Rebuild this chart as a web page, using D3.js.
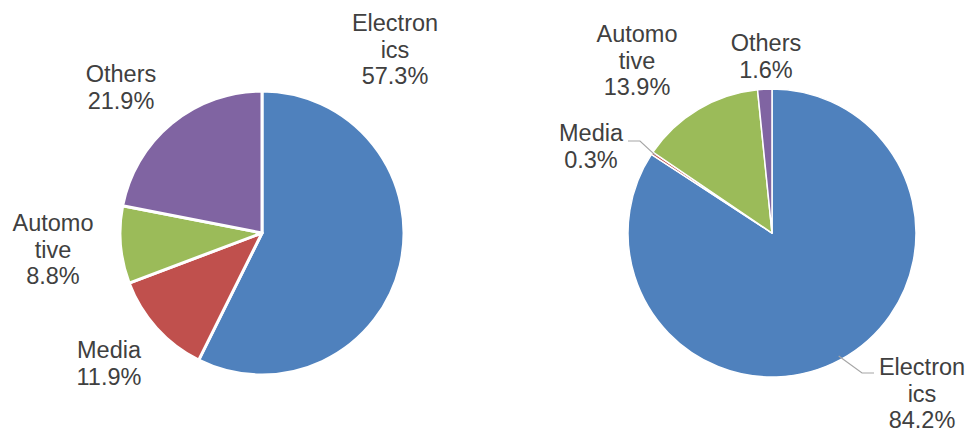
<!DOCTYPE html>
<html>
<head>
<meta charset="utf-8">
<script src="https://cdn.jsdelivr.net/npm/d3@7"></script>
<style>
  body { margin: 0; background: #fff; }
  text { font-family: "Liberation Sans", Arial, sans-serif; font-size: 23.5px; fill: #404040; }
</style>
</head>
<body>
<div id="chart"></div>
<script>
var svgWidth = 969;
var svgHeight = 432;

var categories = ["Electronics", "Media", "Automotive", "Others"];
var labelLines = [["Electron", "ics"], ["Media"], ["Automo", "tive"], ["Others"]];
var leftValues = [57.3, 11.9, 8.8, 21.9];
var rightValues = [84.2, 0.3, 13.9, 1.6];
var colors = ["#4f81bd", "#c0504d", "#9bbb59", "#8064a2"];

// label anchor positions (x centre, first line baseline) for each pie
var leftLabelPos = [[395, 31], [109, 358], [53, 231], [121, 82]];
var rightLabelPos = [[922, 375], [591, 141], [637, 42], [766, 51]];
// leader lines for right pie: [label end, elbow] -> slice
var rightLeaders = {
    0: [[874, 373], [862, 373]],
    1: [[628, 141], [640, 141]]
};

var svg = d3.select("#chart")
    .append("svg")
    .attr("width", svgWidth)
    .attr("height", svgHeight);

function drawPie(values, cx, cy, r, strokeW, labelPos, leaders) {
    var g = svg.append("g").attr("transform", `translate(${cx}, ${cy})`);

    var pie = d3.pie().sort(null).value(d => d);
    var arcs = pie(values);
    var arc = d3.arc().innerRadius(0).outerRadius(r);

    g.selectAll("path")
        .data(arcs)
        .enter()
        .append("path")
        .attr("d", arc)
        .attr("fill", (d, i) => colors[i])
        .attr("stroke", "#fff")
        .attr("stroke-width", strokeW)
        .attr("stroke-linejoin", "round");

    // leader lines
    Object.keys(leaders).forEach(function (k) {
        var a = arcs[+k];
        var mid = (a.startAngle + a.endAngle) / 2;
        var px = cx + Math.sin(mid) * (r - 4);
        var py = cy - Math.cos(mid) * (r - 4);
        var pts = leaders[k].concat([[px, py]]);
        svg.append("path")
            .attr("d", d3.line()(pts))
            .attr("fill", "none")
            .attr("stroke", "#a6a6a6")
            .attr("stroke-width", 1.2);
    });

    // labels
    arcs.forEach(function (a, i) {
        var lines = labelLines[i].concat([d3.format(".1f")(values[i]) + "%"]);
        var t = svg.append("text")
            .attr("x", labelPos[i][0])
            .attr("y", labelPos[i][1])
            .attr("text-anchor", "middle");
        lines.forEach(function (l, j) {
            t.append("tspan")
                .attr("x", labelPos[i][0])
                .attr("dy", j === 0 ? 0 : 26.5)
                .text(l);
        });
    });
}

drawPie(leftValues, 262, 233, 142, 3, leftLabelPos, {});
drawPie(rightValues, 772, 233, 144, 1.5, rightLabelPos, rightLeaders);
</script>
</body>
</html>
